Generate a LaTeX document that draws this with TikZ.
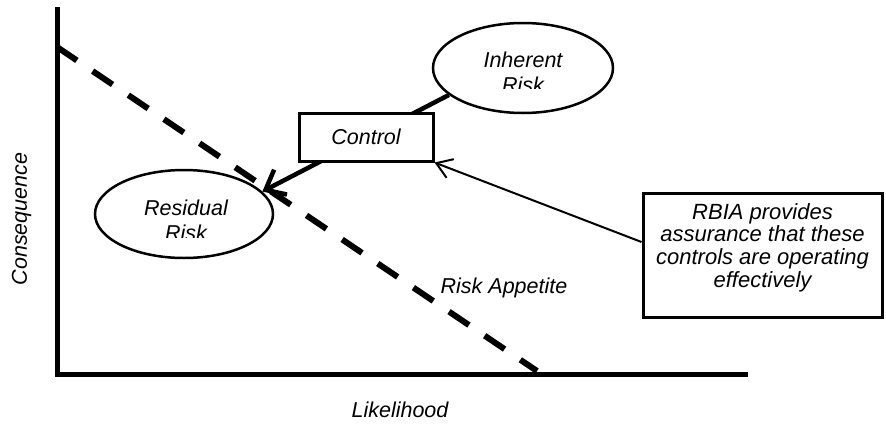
\documentclass[tikz,border=0pt]{standalone}
\usepackage{fontspec}
\setmainfont{Liberation Sans}
\usetikzlibrary{arrows.meta,shapes.geometric}
\begin{document}
\begin{tikzpicture}[x=1pt, y=-1pt,
    every node/.style={font=\fontsize{21.5}{25}\selectfont\itshape},
    axis/.style={line width=5pt},
    appetite/.style={line width=6pt, dash pattern=on 24pt off 19pt},
    risk/.style={draw, ellipse, fill=white, line width=2.5pt, minimum width=180pt, minimum height=90pt, inner sep=0pt},
    box/.style={draw, rectangle, fill=white, line width=3pt, inner sep=0pt},
    flow/.style={line width=4.5pt, -{Straight Barb[length=17pt,width=28pt]}},
    assure/.style={line width=2pt, -{Straight Barb[length=15pt,width=20pt]}}]
  \useasboundingbox (0,0) rectangle (886,423);
  \coordinate (ytop) at (57,7);
  \coordinate (ybot) at (57,377);
  \coordinate (xbeg) at (55,374);
  \coordinate (xend) at (748,374);
  \draw[axis] (ytop) -- (ybot);
  \draw[axis] (xbeg) -- (xend);
  \draw[appetite] (57,47) -- (537,371);
  % risk levels
  \node[risk] (inh) at (523,68) {};
  \node[risk, minimum width=178pt, minimum height=88pt] (res) at (184,214) {};
  \begin{scope}
    \clip (433,20) rectangle (614,88);
    \node[align=center] (inhtext) at (523,72) {Inherent\\Risk};
  \end{scope}
  \begin{scope}
    \clip (95,165) rectangle (273,237);
    \node[align=center] (restext) at (186,220) {Residual\\Risk};
  \end{scope}
  \draw[flow] (inh.200) -- (res.16);
  \node[box, minimum width=134pt, minimum height=48pt] (ctrl) at (366,137) {Control};
  % assurance note
  \node[box, minimum width=239pt, minimum height=124pt] (rbia) at (762.5,255) {};
  \node[align=center, font=\fontsize{22}{22.7}\selectfont\itshape] (rbiatext) at ([yshift=7.5pt]rbia.center)
    {RBIA provides\\assurance that these\\controls are operating\\effectively};
  \draw[assure] ([yshift=13pt]rbia.west) -- (ctrl.south east);
  \node[anchor=base] (app) at (504,293) {Risk Appetite};
  \node[anchor=base] (xlab) at (400,417) {Likelihood};
  \node[anchor=base, rotate=90] (ylab) at (27,219) {Consequence};
\end{tikzpicture}
\end{document}
